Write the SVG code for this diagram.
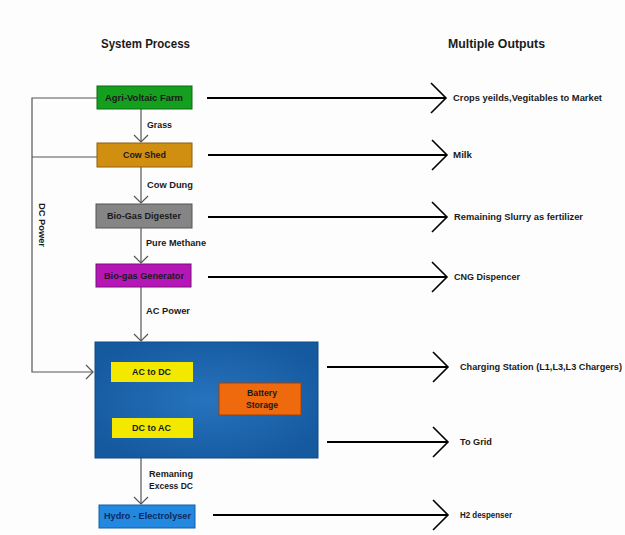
<svg xmlns="http://www.w3.org/2000/svg" width="625" height="535" viewBox="0 0 625 535">
<defs>
<style>
text{font-family:"Liberation Sans",Arial,sans-serif;font-weight:bold;fill:#1a1a1a;dominant-baseline:central;}
.title{font-size:12.5px;}
.lbl{font-size:9px;}
.box{stroke-width:1;}
.flow{stroke:#555;stroke-width:1.2;fill:none;}
.out{stroke:#000;stroke-width:2;fill:none;}
.chev{stroke:#000;stroke-width:1.6;fill:none;}
</style>
<marker id="v" markerUnits="userSpaceOnUse" markerWidth="18" markerHeight="18" viewBox="-9 -9 18 18" refX="0" refY="0" orient="auto">
<path d="M-7,-7 L0,0 L-7,7" stroke="#555" stroke-width="1.2" fill="none"/>
</marker>
<radialGradient id="bg" cx="0.5" cy="0.5" r="0.6">
<stop offset="0" stop-color="#2673bd"/>
<stop offset="1" stop-color="#15599f"/>
</radialGradient>
</defs>
<rect x="0" y="0" width="625" height="535" fill="#fdfdfd"/>
<text class="title" x="101" y="44" textLength="89" lengthAdjust="spacingAndGlyphs">System Process</text>
<text class="title" x="448" y="44" textLength="97" lengthAdjust="spacingAndGlyphs">Multiple Outputs</text>

<g id="connectors">
<polyline class="flow" points="97,98 32,98 32,372 93,372" marker-end="url(#v)"/>
<line class="flow" x1="32" y1="157" x2="97" y2="157"/>
<line class="flow" x1="141" y1="109" x2="141" y2="142" marker-end="url(#v)"/>
<line class="flow" x1="141" y1="167" x2="141" y2="203" marker-end="url(#v)"/>
<line class="flow" x1="141" y1="228" x2="141" y2="263" marker-end="url(#v)"/>
<line class="flow" x1="141" y1="287" x2="141" y2="341" marker-end="url(#v)"/>
<line class="flow" x1="141" y1="458" x2="141" y2="504" marker-end="url(#v)"/>
<text class="lbl" x="147" y="125" textLength="25" lengthAdjust="spacingAndGlyphs">Grass</text>
<text class="lbl" x="147" y="185" textLength="46" lengthAdjust="spacingAndGlyphs">Cow Dung</text>
<text class="lbl" x="146" y="243" textLength="60" lengthAdjust="spacingAndGlyphs">Pure Methane</text>
<text class="lbl" x="146" y="311" textLength="44" lengthAdjust="spacingAndGlyphs">AC Power</text>
<text class="lbl" x="149" y="474" textLength="44" lengthAdjust="spacingAndGlyphs">Remaning</text>
<text class="lbl" x="149" y="486" textLength="44" lengthAdjust="spacingAndGlyphs">Excess DC</text>
<text class="lbl" x="0" y="0" transform="translate(42,203) rotate(90)" textLength="44" lengthAdjust="spacingAndGlyphs">DC Power</text>

<line class="out" x1="207" y1="98" x2="446" y2="98"/>
<polyline class="chev" points="431,83 446,98 431,113"/>
<line class="out" x1="208" y1="155" x2="447" y2="155"/>
<polyline class="chev" points="432,140 447,155 432,170"/>
<line class="out" x1="208" y1="217" x2="447" y2="217"/>
<polyline class="chev" points="432,202 447,217 432,232"/>
<line class="out" x1="208" y1="277" x2="447" y2="277"/>
<polyline class="chev" points="432,262 447,277 432,292"/>
<line class="out" x1="327" y1="367" x2="448" y2="367"/>
<polyline class="chev" points="433,352 448,367 433,382"/>
<line class="out" x1="327" y1="442" x2="448" y2="442"/>
<polyline class="chev" points="433,427 448,442 433,457"/>
<line class="out" x1="213" y1="515" x2="448" y2="515"/>
<polyline class="chev" points="433,500 448,515 433,530"/>
</g>

<g id="agri">
<rect class="box" x="97" y="86" width="95" height="23" fill="#14a01e" stroke="#0b6a12"/>
<text class="lbl" x="105" y="98" textLength="78" lengthAdjust="spacingAndGlyphs">Agri-Voltaic Farm</text>
</g>
<g id="cowshed">
<rect class="box" x="97" y="143" width="95" height="24" fill="#d18f12" stroke="#8e5f0a"/>
<text class="lbl" x="123" y="155" textLength="43" lengthAdjust="spacingAndGlyphs">Cow Shed</text>
</g>
<g id="digester">
<rect class="box" x="96" y="204" width="96" height="24" fill="#858585" stroke="#555"/>
<text class="lbl" x="107" y="216" textLength="74" lengthAdjust="spacingAndGlyphs">Bio-Gas Digester</text>
</g>
<g id="generator">
<rect class="box" x="96" y="264" width="95" height="23" fill="#b516b5" stroke="#7a0c7a"/>
<text class="lbl" x="104" y="276" textLength="80" lengthAdjust="spacingAndGlyphs">Bio-gas Generator</text>
</g>
<g id="power-unit">
<rect class="box" x="95" y="342" width="223" height="116" fill="url(#bg)" stroke="#0f4a86"/>
</g>
<g id="ac-dc">
<rect x="111" y="362" width="82" height="20" fill="#f2e800"/>
<text class="lbl" x="132" y="372" textLength="39" lengthAdjust="spacingAndGlyphs">AC to DC</text>
</g>
<g id="dc-ac">
<rect x="112" y="418" width="81" height="20" fill="#f2e800"/>
<text class="lbl" x="132" y="428" textLength="39" lengthAdjust="spacingAndGlyphs">DC to AC</text>
</g>
<g id="battery">
<rect x="219" y="383" width="82" height="32" fill="#ee6a0c" stroke="#a84000"/>
<text class="lbl" x="247" y="393" textLength="30" lengthAdjust="spacingAndGlyphs">Battery</text>
<text class="lbl" x="246" y="405" textLength="32" lengthAdjust="spacingAndGlyphs">Storage</text>
</g>
<g id="electrolyser">
<rect class="box" x="99" y="505" width="96" height="23" fill="#2288e0" stroke="#155fa5"/>
<text class="lbl" x="104" y="516" textLength="87" lengthAdjust="spacingAndGlyphs" style="fill:#0d2a5c">Hydro - Electrolyser</text>
</g>

<g id="outputs">
<text class="lbl" x="453" y="98" textLength="149" lengthAdjust="spacingAndGlyphs">Crops yeilds,Vegitables to Market</text>
<text class="lbl" x="453" y="155" textLength="19" lengthAdjust="spacingAndGlyphs">Milk</text>
<text class="lbl" x="454" y="217" textLength="129" lengthAdjust="spacingAndGlyphs">Remaining Slurry as fertilizer</text>
<text class="lbl" x="454" y="277" textLength="66" lengthAdjust="spacingAndGlyphs">CNG Dispencer</text>
<text class="lbl" x="460" y="367" textLength="162" lengthAdjust="spacingAndGlyphs">Charging Station (L1,L3,L3 Chargers)</text>
<text class="lbl" x="460" y="442" textLength="32" lengthAdjust="spacingAndGlyphs">To Grid</text>
<text class="lbl" x="460" y="515" textLength="52" lengthAdjust="spacingAndGlyphs">H2 despenser</text>
</g>
</svg>
